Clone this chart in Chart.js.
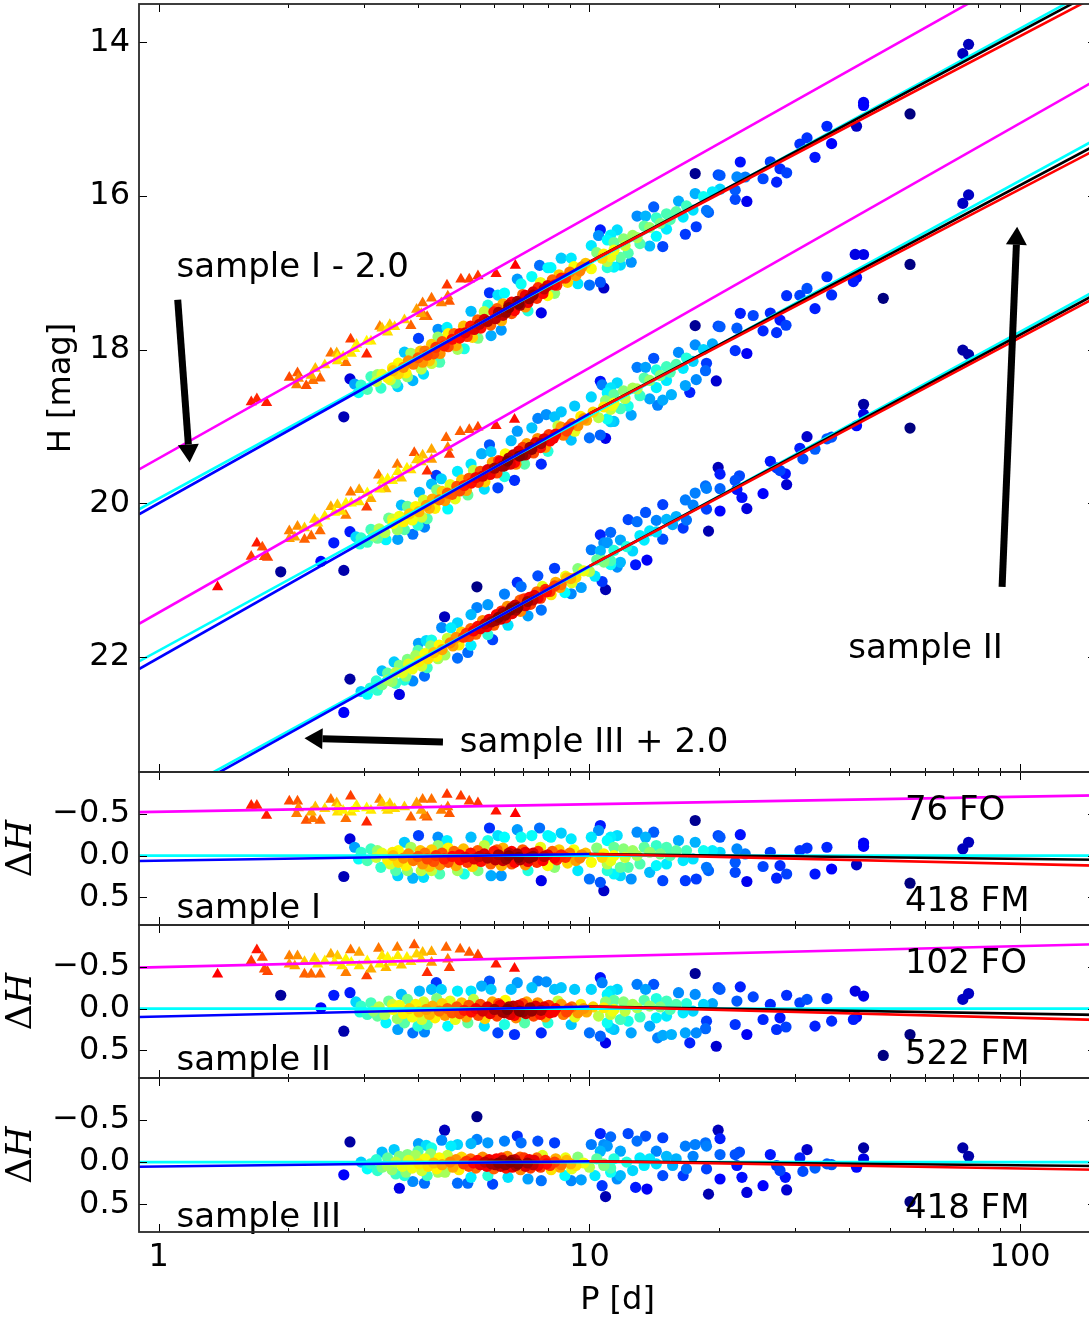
<!DOCTYPE html>
<html>
<head>
<meta charset="utf-8">
<script src="https://cdn.jsdelivr.net/npm/chart.js@4.4.1/dist/chart.umd.min.js"></script>
<style>
  html, body { margin: 0; padding: 0; background: #fff; overflow: hidden; }
  #wrap { position: relative; width: 1089px; height: 1320px; overflow: hidden; }
  #wrap canvas { position: absolute; left: 0; top: 0; }
</style>
</head>
<body>
<div id="wrap">
  <canvas id="c0" width="1100" height="1320"></canvas>
  <canvas id="c1" width="1100" height="1320"></canvas>
  <canvas id="c2" width="1100" height="1320"></canvas>
  <canvas id="c3" width="1100" height="1320"></canvas>
</div>
<script>
// ---------------- data ----------------
const sampleNames = ["sample I", "sample II", "sample III"];
const fmCounts = [418, 522, 418];
const foCounts = [76, 102, 0];

// reference PL fit (cyan) in the top panel, H at P = 0.9 d and 150 d, offsets included
const fitPeriods = [0.9, 150];
const cyanMain = [[20.08, 13.28], [22.06, 15.26], [24.03, 17.23]];

// other fits as residuals relative to the cyan one
const bluePeriods = [0.9, 10];
const blueRes = [[0.065, -0.02], [0.10, -0.025], [0.055, -0.01]];
const longPeriods = [10, 150];
const blackRes = [[-0.02, 0.05], [-0.025, 0.075], [-0.01, 0.045]];
const redRes = [[-0.02, 0.12], [-0.025, 0.135], [-0.01, 0.09]];
const magentaRes = [[-0.52, -0.72], [-0.49, -0.77], null];

// fundamental-mode stars: [P (d), dH (mag)]
const s1Fm = [
  [2.78,-0.20],[2.85,-0.10],[2.69,0.25],[3.59,0.24],[3.89,0.27],[4.12,0.26],[4.01,-0.24],[4.49,0.22],
  [5.86,-0.33],[5.91,0.24],[6.24,0.24],[6.80,-0.31],[7.66,-0.33],[7.73,0.30],[8.01,-0.24],[8.60,-0.27],
  [10.0,0.28],[10.6,-0.36],[10.5,-0.30],[10.8,0.42],[10.6,0.32],[11.0,0.18],
  [3.11,-0.08],[3.22,-0.06],[3.05,0.06],[3.28,0.14],[3.49,-0.04],[3.55,0.18],[3.72,-0.16],[3.78,0.18],
  [4.07,0.18],[4.30,0.18],[4.45,-0.22],[4.67,-0.18],[4.94,0.18],[5.12,0.22],[5.31,-0.22],[5.51,0.18],
  [5.81,-0.18],[6.13,-0.24],[6.35,-0.22],[6.94,-0.22],[7.20,0.18],[7.35,-0.24],[8.14,-0.22],[8.30,0.14],
  [9.07,-0.20],[9.40,0.18],[10.1,-0.22],[11.2,-0.22],[11.2,0.06],[11.4,0.22],[2.91,0.04],[2.95,-0.04],
  [3.20,0.02],[3.30,-0.03],[3.40,0.05],[3.45,0.10],[3.50,0.00],[3.60,-0.06],[3.60,0.08],[3.70,0.03],
  [3.75,0.12],[3.80,-0.02],[3.85,-0.10],[3.90,0.06],[4.00,0.01],[4.05,-0.06],[4.10,0.10],[4.15,-0.03],
  [4.20,0.04],[4.25,0.13],[4.30,-0.07],[4.35,0.07],[4.40,0.00],[4.45,-0.12],[4.50,0.11],[4.55,-0.03],
  [4.60,0.04],[4.70,-0.09],[4.70,0.08],[4.80,0.01],[4.85,-0.05],[4.90,0.12],[5.00,0.05],[5.00,-0.01],
  [5.10,-0.08],[5.15,0.02],[5.20,0.08],[5.30,-0.03],[5.35,0.13],[5.40,0.04],[5.50,-0.06],[5.55,0.01],
  [5.60,0.07],[5.70,-0.12],[5.70,-0.02],[5.80,0.03],[5.90,0.10],[6.00,-0.05],[6.05,0.05],[6.15,-0.01],
  [6.25,0.12],[6.30,-0.09],[6.40,0.04],[6.50,0.00],[6.60,-0.05],[6.70,0.08],[6.85,0.02],[7.00,-0.07],
  [7.10,0.11],[7.25,0.03],[7.40,-0.03],[7.55,0.08],[7.70,-0.10],[7.85,0.01],[8.00,0.12],[8.20,-0.05],
  [8.40,0.05],[8.60,-0.01],[8.90,0.09],[9.20,-0.07],[9.50,0.03],[9.80,-0.03],[10.1,0.08],[10.4,-0.09],
  [10.7,0.02],[11.0,0.10],
  [6.10,-0.07],[6.30,0.06],[6.50,-0.03],[6.60,0.10],[6.80,-0.02],[6.90,0.05],[7.10,-0.04],[7.20,0.07],
  [7.40,0.01],[7.60,-0.05],[7.80,0.06],[8.00,-0.01],[8.30,0.03],[8.50,-0.07],[8.80,0.02],[9.00,-0.03],
  [9.30,0.06],[9.60,-0.01],
  [11.6,-0.24],[11.8,0.24],[12.5,0.28],[12.9,-0.28],[13.5,-0.22],[14.1,-0.28],[13.8,0.20],[14.8,0.30],
  [16.1,-0.18],[16.7,0.30],[17.6,-0.42],[17.7,0.28],[17.6,-0.16],[18.7,0.14],[18.9,0.18],[19.9,-0.24],
  [20.1,-0.22],[20.1,-0.04],[21.8,0.08],[21.8,0.20],[22.0,-0.08],[22.4,-0.25],[23.2,0.31],[23.0,-0.02],
  [25.3,0.13],[26.3,-0.04],[27.7,0.12],[27.2,0.27],[28.7,0.22],[30.8,-0.06],[32.0,-0.09],[33.4,0.22],
  [35.6,-0.10],[36.5,0.16],[41.7,0.11],[43.3,-0.15],[43.3,-0.11],[55.5,0.33],[73.6,-0.08],[75.9,-0.16],
  [11.0,-0.18],[11.4,-0.10],[12.0,-0.08],[12.6,-0.06],[13.4,-0.10],[14.3,-0.12],[15.1,-0.10],[15.9,-0.06],
  [16.8,-0.06],[11.2,0.06],[11.8,0.14],[12.3,0.14],[13.1,0.10],[14.3,0.12],[15.1,0.10],[16.5,0.06],
  [17.4,0.04],[18.4,-0.06],[19.3,-0.06],[10.8,-0.02],[11.4,0.00],[12.1,0.02],[12.9,0.00],[13.8,-0.04],
  [14.6,-0.02],[15.4,0.00]
];
const s2Fm = [
  [1.92,-0.16],[2.38,-0.01],[2.55,-0.16],[2.69,0.27],[2.78,-0.19],[2.87,-0.08],[4.41,-0.31],[4.30,-0.23],
  [4.03,-0.21],[3.59,0.25],[3.89,0.29],[4.14,0.28],[5.62,-0.27],[5.86,-0.33],[6.13,0.29],[6.70,0.31],
  [6.80,-0.31],[7.59,-0.33],[7.94,-0.32],[7.73,0.29],[8.60,-0.25],[10.0,0.29],[10.6,-0.37],[10.7,-0.31],
  [10.9,0.41],[10.6,0.33],
  [3.11,-0.07],[3.05,0.07],[3.22,0.09],[3.37,0.17],[3.49,-0.05],[3.66,-0.17],[3.72,0.17],[4.00,0.21],
  [4.20,0.19],[4.53,-0.23],[4.69,0.21],[4.94,-0.21],[5.22,0.17],[5.31,-0.21],[5.70,0.21],[5.91,-0.23],
  [6.35,0.19],[6.58,-0.23],[7.07,0.17],[7.35,-0.25],[8.01,0.17],[8.30,-0.23],[9.07,0.19],[9.24,-0.23],
  [10.1,-0.23],[11.0,0.17],[11.2,-0.21],[11.4,0.25],[2.95,-0.03],[2.93,0.04],
  [3.15,0.03],[3.25,-0.02],[3.35,0.07],[3.42,-0.09],[3.50,0.01],[3.58,0.12],[3.62,-0.04],[3.70,0.06],
  [3.78,-0.11],[3.82,0.00],[3.88,0.10],[3.95,-0.05],[4.02,0.04],[4.08,0.13],[4.12,-0.08],[4.18,0.01],
  [4.25,0.07],[4.32,-0.03],[4.38,0.11],[4.42,-0.12],[4.48,0.03],[4.55,-0.06],[4.62,0.08],[4.68,0.00],
  [4.75,-0.09],[4.80,0.05],[4.88,0.13],[4.92,-0.02],[5.00,0.06],[5.05,-0.07],[5.12,0.02],[5.18,0.10],
  [5.25,-0.04],[5.32,0.04],[5.38,-0.11],[5.45,0.00],[5.52,0.08],[5.58,-0.05],[5.65,0.03],[5.72,0.12],
  [5.80,-0.02],[5.88,0.06],[5.95,-0.08],[6.02,0.01],[6.10,0.09],[6.20,-0.04],[6.28,0.04],[6.38,-0.10],
  [6.45,0.01],[6.55,0.07],[6.65,-0.03],[6.75,0.11],[6.88,0.03],[7.00,-0.06],[7.12,0.06],[7.28,-0.01],
  [7.42,0.09],[7.58,-0.07],[7.72,0.02],[7.90,0.10],[8.05,-0.04],[8.25,0.04],[8.45,-0.09],[8.70,0.07],
  [8.95,0.00],[9.25,0.10],[9.55,-0.05],[9.85,0.04],[10.2,-0.02],[10.5,0.09],[10.9,-0.08],[11.3,0.03],
  [6.15,-0.06],[6.35,0.05],[6.50,-0.02],[6.70,0.08],[6.85,-0.04],[7.00,0.04],[7.15,-0.08],[7.35,0.03],
  [7.50,-0.03],[7.70,0.07],[7.85,-0.02],[8.10,0.05],[8.35,0.00],[8.60,-0.05],[8.85,0.04],[9.10,-0.02],
  [9.40,0.05],[9.70,0.00],
  [11.2,0.23],[11.6,-0.23],[12.5,0.29],[12.9,-0.29],[13.5,-0.23],[14.1,-0.29],[13.8,0.21],[14.4,0.35],
  [14.8,0.32],[15.5,0.31],[16.1,-0.19],[16.7,0.29],[17.1,0.41],[17.6,-0.42],[17.7,0.29],[17.6,-0.17],
  [18.7,0.15],[18.6,0.24],[19.7,0.45],[19.9,-0.25],[20.1,-0.23],[21.8,0.19],[22.0,-0.09],[22.4,-0.26],
  [23.2,0.31],[24.0,-0.14],[25.3,0.13],[26.3,-0.05],[27.7,0.11],[27.2,0.25],[28.7,-0.16],[28.6,0.22],
  [30.8,-0.07],[32.0,-0.11],[33.4,0.21],[35.6,-0.12],[36.5,0.15],[41.4,-0.21],[41.7,0.10],[43.3,-0.15],
  [41.0,0.13],[48.1,0.56],[55.5,0.31],[73.6,-0.11],[75.9,-0.18],
  [11.0,-0.17],[11.4,-0.10],[12.0,-0.08],[12.6,-0.05],[13.4,-0.10],[14.3,-0.12],[15.1,-0.09],[15.9,-0.05],
  [16.8,-0.06],[11.2,0.07],[11.8,0.13],[12.3,0.15],[13.1,0.10],[14.3,0.11],[15.1,0.09],[16.5,0.05],
  [17.4,0.03],[18.4,-0.05],[19.3,-0.06],[10.8,-0.01],[11.4,0.01],[12.1,0.03],[12.9,-0.01],[13.8,-0.03],
  [14.6,-0.02],[15.4,0.01]
];
const s3Fm = [
  [2.78,-0.24],[2.69,0.15],[3.62,0.31],[4.01,-0.22],[4.18,-0.20],[4.61,-0.38],[4.54,-0.26],[5.48,-0.54],
  [5.48,-0.27],[5.96,0.26],[6.80,-0.31],[7.73,0.22],[10.6,-0.34],[11.2,-0.30],[10.9,0.41],[10.7,0.28],
  [4.94,0.25],[5.22,0.25],[3.89,0.23],[4.14,0.25],[3.52,-0.15],[3.30,-0.12],
  [2.95,0.00],[3.05,0.08],[3.22,0.10],[3.40,0.04],[3.55,0.14],[3.72,0.16],[4.20,0.16],[4.45,0.12],
  [4.77,-0.19],[4.94,-0.21],[5.31,-0.22],[5.81,-0.23],[6.35,-0.25],[6.94,-0.23],[7.59,-0.25],[8.30,-0.23],
  [8.77,0.16],[9.07,0.22],[9.57,0.21],[7.20,0.20],[6.47,0.18],[5.81,0.16],[5.31,0.18],[10.1,-0.21],
  [10.8,-0.21],[10.3,0.16],[3.78,-0.09],[4.00,-0.13],[4.30,-0.17],
  [3.10,0.02],[3.20,-0.03],[3.30,0.06],[3.40,-0.05],[3.48,0.09],[3.55,0.00],[3.62,-0.07],[3.68,0.05],
  [3.75,0.12],[3.80,-0.02],[3.88,0.07],[3.95,-0.08],[4.02,0.02],[4.08,0.10],[4.15,-0.04],[4.22,0.05],
  [4.28,-0.10],[4.35,0.01],[4.42,0.08],[4.48,-0.05],[4.55,0.03],[4.62,0.12],[4.68,-0.08],[4.75,0.00],
  [4.82,0.06],[4.90,-0.03],[4.98,0.09],[5.05,-0.06],[5.10,0.02],[5.18,-0.01],[5.25,0.05],[5.30,-0.04],
  [5.38,0.01],[5.45,0.07],[5.50,-0.02],[5.58,0.03],[5.65,-0.06],[5.72,0.00],[5.78,0.05],[5.85,-0.03],
  [5.92,0.02],[6.00,0.08],[6.08,-0.04],[6.15,0.01],[6.22,0.05],[6.30,-0.02],[6.38,0.03],[6.45,-0.07],
  [6.55,0.00],[6.62,0.06],[6.72,-0.03],[6.82,0.02],[6.92,0.09],[7.05,-0.05],[7.18,0.01],[7.30,0.07],
  [7.45,-0.02],[7.60,0.04],[7.78,-0.08],[7.95,0.02],[8.15,0.09],[8.35,-0.04],[8.60,0.03],[8.85,-0.02],
  [9.10,0.08],[9.40,-0.06],[9.70,0.01],[10.0,0.06],[10.4,-0.04],[10.8,0.02],[11.2,0.07],
  [6.05,0.03],[6.25,-0.05],[6.40,0.07],[6.60,-0.02],[6.75,0.04],[6.90,-0.06],[7.10,0.05],[7.25,-0.03],
  [7.40,0.03],[7.55,-0.05],[7.70,0.06],[7.90,-0.02],[8.10,0.04],[8.30,0.00],[8.55,0.06],[8.80,-0.05],
  [9.05,0.02],[9.30,0.04],
  [12.3,-0.34],[12.9,-0.25],[13.5,-0.31],[14.8,-0.29],[11.6,0.20],[12.8,0.30],[13.6,0.32],[14.8,0.16],
  [16.5,0.16],[16.7,-0.19],[17.6,-0.21],[18.6,-0.23],[18.7,-0.19],[18.7,0.08],[19.9,-0.38],[20.1,-0.28],
  [20.1,-0.09],[20.1,0.20],[18.9,0.38],[21.8,-0.09],[22.3,-0.12],[22.0,0.04],[22.6,0.18],[23.2,0.36],
  [25.3,0.28],[26.3,-0.09],[27.2,0.04],[27.7,0.10],[28.5,0.18],[28.7,0.33],[30.8,-0.05],[32.0,-0.15],
  [31.3,0.11],[33.4,0.07],[35.6,0.02],[36.5,0.03],[41.7,0.06],[43.3,-0.17],[43.3,-0.04],[55.5,0.47],
  [73.6,-0.17],[75.9,-0.07],
  [10.6,-0.13],[11.0,-0.19],[11.4,-0.04],[11.8,-0.13],[11.2,0.12],[11.8,0.16],[12.6,0.10],[13.4,0.04],
  [13.8,-0.04],[14.3,-0.13],[15.1,-0.07],[15.9,-0.04],[16.8,0.08],[17.4,-0.07],[10.8,0.04],[12.2,0.00],
  [13.1,-0.05],[14.3,0.02],[15.6,0.04]
];

// first-overtone stars: [P (d), dH (mag)]
const s1Fo = [
  [1.64,-0.60],[1.69,-0.60],[1.78,-0.48],[2.01,-0.65],[2.10,-0.65],[2.09,-0.50],[2.20,-0.42],[2.28,-0.44],
  [2.37,-0.42],[2.31,-0.58],[2.51,-0.67],[2.59,-0.63],[2.72,-0.44],[2.79,-0.71],[2.88,-0.60],[3.04,-0.40],
  [3.26,-0.67],[3.30,-0.63],[3.44,-0.62],[3.40,-0.54],[3.72,-0.58],[3.85,-0.46],[3.97,-0.63],[4.10,-0.67],
  [4.20,-0.46],[4.30,-0.67],[4.67,-0.73],[4.69,-0.58],[4.73,-0.50],[5.03,-0.71],[5.26,-0.65],[5.51,-0.63],
  [6.07,-0.53],[6.73,-0.50],
  [2.43,-0.56],[2.60,-0.57],[2.68,-0.54],[2.85,-0.56],[3.04,-0.57],[3.11,-0.54],[3.38,-0.57],[3.53,-0.56],
  [2.60,-0.52],[2.80,-0.52],[2.26,-0.52],[2.11,-0.57],[4.07,-0.54],[4.14,-0.48],[4.53,-0.54]
];
const s2Fo = [
  [1.37,-0.41],[1.64,-0.57],[1.69,-0.70],[1.74,-0.61],[1.76,-0.47],[1.79,-0.44],[2.01,-0.63],[2.10,-0.63],
  [2.07,-0.51],[2.18,-0.41],[2.26,-0.41],[2.37,-0.41],[2.30,-0.60],[2.51,-0.65],[2.60,-0.63],[2.72,-0.43],
  [2.79,-0.70],[2.92,-0.67],[3.04,-0.39],[3.24,-0.72],[3.30,-0.63],[3.40,-0.61],[3.58,-0.73],[3.59,-0.63],
  [3.77,-0.61],[3.92,-0.76],[3.97,-0.65],[4.10,-0.67],[4.30,-0.68],[4.20,-0.43],[4.65,-0.73],[4.69,-0.59],
  [4.73,-0.49],[5.01,-0.71],[5.26,-0.67],[5.51,-0.64],[6.07,-0.53],[6.70,-0.48],
  [2.34,-0.53],[2.43,-0.57],[2.56,-0.55],[2.66,-0.51],[2.80,-0.55],[2.92,-0.51],[3.05,-0.57],[3.26,-0.53],
  [3.37,-0.49],[3.49,-0.55],[3.66,-0.52],[3.85,-0.56],[4.07,-0.59],[4.30,-0.55],[2.01,-0.53],[2.18,-0.56],
  [2.72,-0.59],[3.11,-0.47]
];
const fmStars = [s1Fm, s2Fm, s3Fm];
const foStars = [s1Fo, s2Fo, null];

// axis ticks
const xMajor = [1, 10, 100];
const xMinor = [2, 3, 4, 5, 6, 7, 8, 9, 20, 30, 40, 50, 60, 70, 80, 90];
const mainTicks = [14, 16, 18, 20, 22];
const resTicks = [-0.5, 0, 0.5];

// ---------------- helpers ----------------
Chart.defaults.font.family = '"DejaVu Sans"';
Chart.defaults.color = "#000";

function clamp01(v) { return Math.max(0, Math.min(1, v)); }
function jet(t) {
  const c = v => Math.round(255 * clamp01(v));
  return `rgb(${c(1.5 - Math.abs(4 * t - 3))},${c(1.5 - Math.abs(4 * t - 2))},${c(1.5 - Math.abs(4 * t - 1))})`;
}
function autumn(t) { return `rgb(255,${Math.round(255 * clamp01(t))},0)`; }

// linear in log10(P) between two read-off end values
function lineAt(p, ps, vs) {
  const t = (Math.log10(p) - Math.log10(ps[0])) / (Math.log10(ps[1]) - Math.log10(ps[0]));
  return vs[0] + t * (vs[1] - vs[0]);
}

// colour each star by local point density, densest drawn last
function colourByDensity(stars, cmap, gamma) {
  const lx = stars.map(s => Math.log10(s[0]));
  const dens = stars.map((s, i) => {
    let sum = 0;
    for (let j = 0; j < stars.length; j++) {
      const a = (lx[i] - lx[j]) / 0.06, b = (s[1] - stars[j][1]) / 0.07;
      sum += Math.exp(-0.5 * (a * a + b * b));
    }
    return sum;
  });
  const lo = Math.min(...dens), hi = Math.max(...dens);
  return stars
    .map((s, i) => ({ p: s[0], dh: s[1], t: Math.pow((dens[i] - lo) / (hi - lo || 1), gamma) }))
    .sort((a, b) => a.t - b.t)
    .map(o => ({ p: o.p, dh: o.dh, color: cmap(o.t) }));
}

const fmCol = fmStars.map(s => colourByDensity(s, jet, 0.75));
const foCol = foStars.map(s => (s ? colourByDensity(s, autumn, 1) : null));

function pointSet(list, yOf, style, order) {
  return {
    data: list.map(o => ({ x: o.p, y: yOf(o) })),
    backgroundColor: list.map(o => o.color),
    borderWidth: 0,
    pointRadius: style === "triangle" ? 6.5 : 5.6,
    pointStyle: style,
    showLine: false,
    clip: 0,
    order: order
  };
}
function lineSet(ps, ys, color, order) {
  return {
    data: ps.map((p, k) => ({ x: p, y: ys[k] })),
    showLine: true,
    borderColor: color,
    borderWidth: 2.6,
    pointRadius: 0,
    fill: false,
    clip: 0,
    order: order
  };
}

function drawArrow(ctx, x0, y0, x1, y1) {
  const ang = Math.atan2(y1 - y0, x1 - x0), head = 18, half = 10.5;
  const bx = x1 - head * Math.cos(ang), by = y1 - head * Math.sin(ang);
  ctx.strokeStyle = "#000"; ctx.lineWidth = 7; ctx.lineCap = "butt";
  ctx.beginPath(); ctx.moveTo(x0, y0); ctx.lineTo(bx, by); ctx.stroke();
  ctx.fillStyle = "#000";
  ctx.beginPath();
  ctx.moveTo(x1, y1);
  ctx.lineTo(bx + half * Math.sin(ang), by - half * Math.cos(ang));
  ctx.lineTo(bx - half * Math.sin(ang), by + half * Math.cos(ang));
  ctx.closePath(); ctx.fill();
}

// frame, inward ticks, annotations
function decor(yTicks, texts, arrows, deltaTitle) {
  return {
    id: "decor",
    afterDraw(chart) {
      const { ctx, chartArea: a, scales } = chart;
      const xs = scales.x, ys = scales.y;
      ctx.save();
      ctx.fillStyle = "#000";
      ctx.font = '34px "DejaVu Sans"';
      ctx.textAlign = "left"; ctx.textBaseline = "alphabetic";
      texts.forEach(t => ctx.fillText(t.text, xs.getPixelForValue(t.p), ys.getPixelForValue(t.v)));
      arrows.forEach(r => drawArrow(ctx,
        xs.getPixelForValue(r.from[0]), ys.getPixelForValue(r.from[1]),
        xs.getPixelForValue(r.to[0]), ys.getPixelForValue(r.to[1])));

      ctx.strokeStyle = "#000"; ctx.lineWidth = 1;
      ctx.beginPath();
      const xt = (v, len) => {
        const px = Math.round(xs.getPixelForValue(v)) + 0.5;
        ctx.moveTo(px, a.top); ctx.lineTo(px, a.top + len);
        ctx.moveTo(px, a.bottom); ctx.lineTo(px, a.bottom - len);
      };
      xMajor.forEach(v => xt(v, 8));
      xMinor.forEach(v => xt(v, 4));
      yTicks.forEach(v => {
        const py = Math.round(ys.getPixelForValue(v)) + 0.5;
        ctx.moveTo(a.left, py); ctx.lineTo(a.left + 8, py);
        ctx.moveTo(a.right, py); ctx.lineTo(a.right - 8, py);
      });
      ctx.stroke();
      ctx.strokeStyle = "#2a2a2a"; ctx.lineWidth = 1.8;
      ctx.strokeRect(a.left, a.top, a.width, a.height);

      if (deltaTitle) {
        ctx.translate(22, (a.top + a.bottom) / 2);
        ctx.rotate(-Math.PI / 2);
        ctx.textBaseline = "middle";
        ctx.font = '36px "DejaVu Serif"';
        const wD = ctx.measureText("\u0394").width;
        ctx.font = 'italic 36px "DejaVu Serif"';
        const wH = ctx.measureText("H").width;
        const x0 = -(wD + wH) / 2;
        ctx.font = '36px "DejaVu Serif"';
        ctx.fillText("\u0394", x0, 0);
        ctx.font = 'italic 36px "DejaVu Serif"';
        ctx.fillText("H", x0 + wD, 0);
      }
      ctx.restore();
    }
  };
}

function fmtRes(v) {
  if (Math.abs(v) < 1e-9) return "0.0";
  return (v < 0 ? "\u2212" : "") + Math.abs(v).toFixed(1);
}

function makePanel(id, top, bottom, yMin, yMax, yTicks, fmt, datasets, plugin, showX, yTitle) {
  const xAxis = {
    type: "logarithmic", min: 0.9, max: 150,
    display: showX,
    grid: { display: false, drawTicks: false }, border: { display: false },
    afterBuildTicks: s => { s.ticks = xMajor.map(v => ({ value: v })); },
    ticks: { autoSkip: false, maxRotation: 0, padding: 6, font: { size: 32 }, callback: v => String(v) },
    title: { display: showX, text: "P [d]", font: { size: 32 }, padding: { top: 0, bottom: 0 } },
    afterFit: s => {
      if (showX) s.height = 88;
      s.paddingLeft = 0; s.paddingRight = 0;
    }
  };
  new Chart(document.getElementById(id), {
    type: "scatter",
    data: { datasets: datasets },
    options: {
      responsive: false, animation: false, events: [],
      layout: { autoPadding: false, padding: { top: top, bottom: bottom, left: 0, right: 4 } },
      plugins: { legend: { display: false }, tooltip: { enabled: false } },
      scales: {
        x: xAxis,
        y: {
          type: "linear", min: yMin, max: yMax, reverse: true,
          grid: { display: false, drawTicks: false }, border: { display: false },
          afterBuildTicks: s => { s.ticks = yTicks.map(v => ({ value: v })); },
          ticks: { autoSkip: false, padding: 9, font: { size: 32 }, callback: fmt },
          title: { display: !!yTitle, text: yTitle || "", font: { size: 32 }, padding: { top: 42, bottom: 0 } },
          afterFit: s => {
            s.width = 139;
            s.paddingTop = 0; s.paddingBottom = 0;
          }
        }
      }
    },
    plugins: [plugin]
  });
}

// ---------------- top panel: PL relations ----------------
const mainSets = [];
for (let s = 0; s < 3; s++) {
  const cy = cyanMain[s];
  const at = p => lineAt(p, fitPeriods, cy);
  mainSets.push(pointSet(fmCol[s], o => at(o.p) + o.dh, "circle", 10));
  if (foCol[s]) mainSets.push(pointSet(foCol[s], o => at(o.p) + o.dh, "triangle", 9));
  mainSets.push(lineSet(fitPeriods, cy, "#00ffff", 4));
  if (magentaRes[s]) mainSets.push(lineSet(fitPeriods, fitPeriods.map((p, k) => at(p) + magentaRes[s][k]), "#ff00ff", 3));
  mainSets.push(lineSet(bluePeriods, bluePeriods.map((p, k) => at(p) + blueRes[s][k]), "#0000ff", 2));
  mainSets.push(lineSet(longPeriods, longPeriods.map((p, k) => at(p) + blackRes[s][k]), "#000000", 1));
  mainSets.push(lineSet(longPeriods, longPeriods.map((p, k) => at(p) + redRes[s][k]), "#ff0000", 0));
}
const mainTexts = [
  { text: "sample I - 2.0", p: 1.10, v: 17.05 },
  { text: "sample II", p: 39.9, v: 22.01 },
  { text: "sample III + 2.0", p: 5.0, v: 23.24 }
];
const mainArrows = [
  { from: [1.107, 17.35], to: [1.18, 19.47] },
  { from: [90.8, 21.09], to: [98.4, 16.40] },
  { from: [4.57, 23.11], to: [2.18, 23.06] }
];
makePanel("c0", 4, 1320 - 772, 13.5, 23.5, mainTicks, v => String(v), mainSets,
  decor(mainTicks, mainTexts, mainArrows, false), false, "H [mag]");

// ---------------- residual panels ----------------
const panelTops = [772, 925, 1078];
const panelBottoms = [925, 1078, 1232];
for (let s = 0; s < 3; s++) {
  const sets = [];
  sets.push(pointSet(fmCol[s], o => o.dh, "circle", 10));
  if (foCol[s]) sets.push(pointSet(foCol[s], o => o.dh, "triangle", 9));
  sets.push(lineSet(fitPeriods, [0, 0], "#00ffff", 4));
  if (magentaRes[s]) sets.push(lineSet(fitPeriods, magentaRes[s], "#ff00ff", 3));
  sets.push(lineSet(bluePeriods, blueRes[s], "#0000ff", 2));
  sets.push(lineSet(longPeriods, blackRes[s], "#000000", 1));
  sets.push(lineSet(longPeriods, redRes[s], "#ff0000", 0));

  const texts = [{ text: sampleNames[s], p: 1.10, v: [0.75, 0.74, 0.77][s] }];
  if (foCounts[s]) texts.push({ text: foCounts[s] + " FO", p: 54, v: -0.43 });
  texts.push({ text: fmCounts[s] + " FM", p: 54, v: 0.66 });

  const last = s === 2;
  makePanel("c" + (s + 1), panelTops[s], last ? 0 : 1320 - panelBottoms[s], -1.0, 0.83, resTicks, fmtRes,
    sets, decor(resTicks, texts, [], true), last, null);
}
</script>
</body>
</html>
